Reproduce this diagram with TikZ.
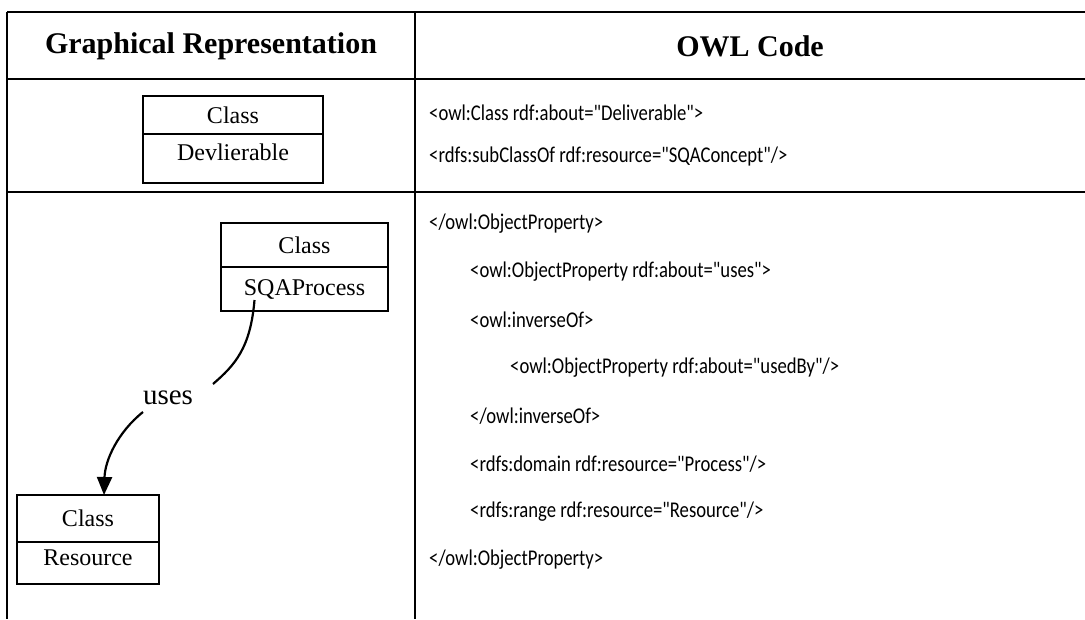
\documentclass[tikz,border=0pt]{standalone}
\usepackage{fontspec}
\setmainfont{Liberation Serif}
\newfontfamily\owlfont{Carlito}[FakeStretch=0.83]
\usepackage{tikz}
\usetikzlibrary{positioning, arrows.meta, calc}

\begin{document}
\begin{tikzpicture}[
            x=1pt, y=-1pt,
            rule/.style={line width=1.3pt}, % table rules
            head/.style={font=\fontsize{30}{34}\selectfont\bfseries}, % column headings
            part/.style={draw, line width=2pt, inner sep=0pt, outer sep=0pt, font=\fontsize{24}{28}\selectfont}, % compartment of a class box
            code/.style={anchor=west, inner sep=0pt, font=\owlfont\fontsize{22.5}{26}\selectfont}, % one line of OWL code
            rel/.style={line width=2.2pt, -{Triangle[length=18pt,width=15pt]}} % relation arrow
            ]

                \useasboundingbox (0,0) rectangle (1085,619);

                % table rules
                \draw[rule] (7,12) -- (1085,12);
                \draw[rule] (7,79) -- (1085,79);
                \draw[rule] (7,192) -- (1085,192);
                \draw[rule] (7,12) -- (7,619);
                \draw[rule] (415,12) -- (415,619);

                % headings
                \node[head] (gHead) at (211,46) {Graphical Representation};
                \node[head] (oHead) at (750,46) {OWL Code};

                % class boxes
                \node[part, minimum width=180, minimum height=38] (delivHead) at (233,115) {Class};
                \node[part, minimum width=180, minimum height=49, text depth=13pt, below=0pt of delivHead] (delivName) {Devlierable};

                \node[part, minimum width=167, minimum height=44] (procHead) at (304.5,245) {Class};
                \node[part, minimum width=167, minimum height=44, below=0pt of procHead] (procName) {SQAProcess};

                \node[part, minimum width=142, minimum height=47] (resHead) at (88,518.5) {Class};
                \node[part, minimum width=142, minimum height=42, text depth=10pt, below=0pt of resHead] (resName) {Resource};

                % uses relation
                \node[font=\fontsize{29}{32}\selectfont, inner sep=1pt] (uses) at (168,398) {uses};
                \coordinate (usesIn) at (213,384);
                \coordinate (usesOut) at (143,412);
                \draw[line width=2.2pt] ($(procName.center)+(-50,11)$) .. controls +(-4,48) and +(22,-19) .. (usesIn);
                \draw[rel] (usesOut) .. controls +(-25,20) and +(1,-35) .. ($(resHead.north)+(16,0)$);

                % OWL code
                \node[code] (c1) at (429,113) {<owl:Class rdf:about="Deliverable">};
                \node[code] (c2) at (429,156) {<rdfs:subClassOf rdf:resource="SQAConcept"/>};
                \node[code] (c3) at (429,224) {</owl:ObjectProperty>};
                \node[code] (c4) at (470,272) {<owl:ObjectProperty rdf:about="uses">};
                \node[code] (c5) at (470,320) {<owl:inverseOf>};
                \node[code] (c6) at (510,368) {<owl:ObjectProperty rdf:about="usedBy"/>};
                \node[code] (c7) at (470,416) {</owl:inverseOf>};
                \node[code] (c8) at (470,464) {<rdfs:domain rdf:resource="Process"/>};
                \node[code] (c9) at (470,512) {<rdfs:range rdf:resource="Resource"/>};
                \node[code] (c10) at (429,560) {</owl:ObjectProperty>};

            \end{tikzpicture}
\end{document}
